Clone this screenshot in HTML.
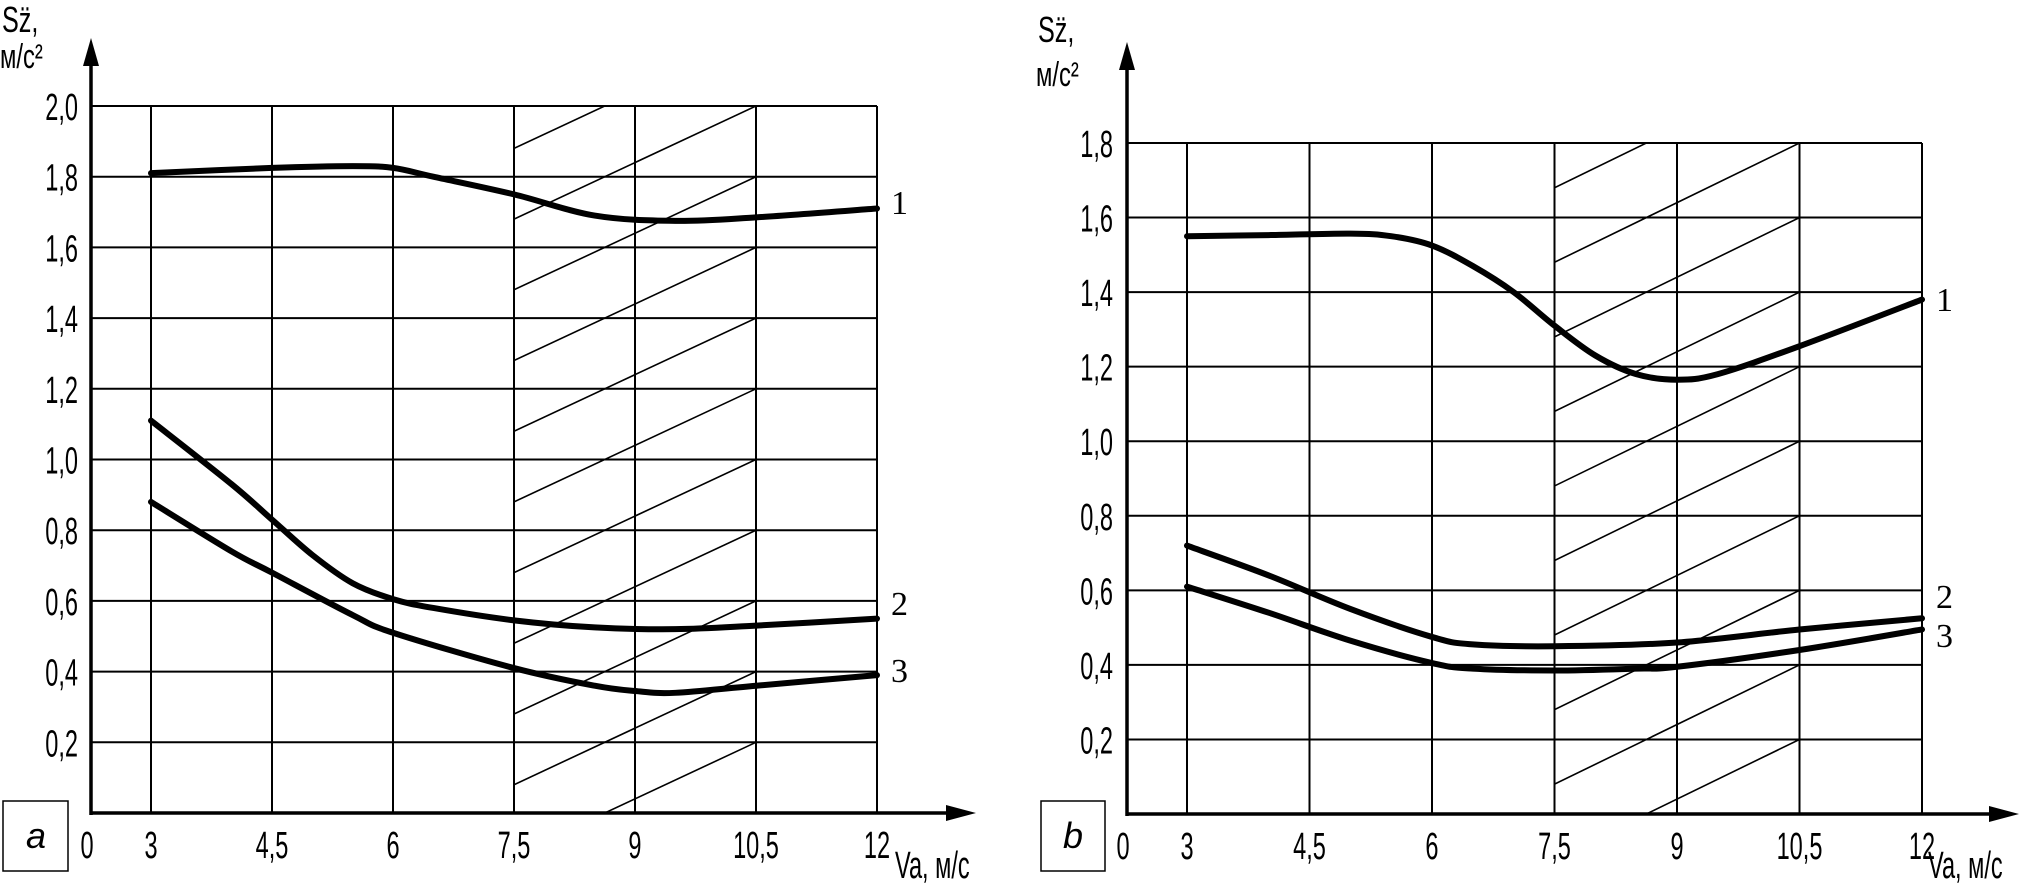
<!DOCTYPE html>
<html><head><meta charset="utf-8">
<style>
html,body{margin:0;padding:0;background:#fff;}
svg{display:block;}
text{font-family:"Liberation Sans",sans-serif;fill:#000;}
</style></head>
<body>
<svg id="chart" width="2020" height="886" viewBox="0 0 2020 886" xmlns="http://www.w3.org/2000/svg"></svg>
<script>
// ---- data ----
const xTicks = [3, 4.5, 6, 7.5, 9, 10.5, 12];
const xTickLabels = ["3", "4,5", "6", "7,5", "9", "10,5", "12"];
const yTicksA = [0.2, 0.4, 0.6, 0.8, 1.0, 1.2, 1.4, 1.6, 1.8, 2.0];
const yTickLabelsA = ["0,2","0,4","0,6","0,8","1,0","1,2","1,4","1,6","1,8","2,0"];
const yTicksB = [0.2, 0.4, 0.6, 0.8, 1.0, 1.2, 1.4, 1.6, 1.8];
const yTickLabelsB = ["0,2","0,4","0,6","0,8","1,0","1,2","1,4","1,6","1,8"];
const hatchOffsets = [1.88, 1.68, 1.48, 1.28, 1.08, 0.88, 0.68, 0.48, 0.28, 0.08, -0.12];
const hatchRange = [7.5, 10.5];

const a1x = [3, 4.5, 5.5, 6, 6.5, 7.5, 8.5, 9.5, 10.5, 12];
const a1y = [1.81, 1.825, 1.83, 1.825, 1.80, 1.75, 1.69, 1.675, 1.685, 1.71];
const a2x = [3, 4, 4.5, 5, 5.5, 6, 6.5, 7.5, 8.5, 9.5, 10.5, 12];
const a2y = [1.11, 0.93, 0.83, 0.73, 0.65, 0.605, 0.58, 0.545, 0.525, 0.52, 0.53, 0.55];
const a3x = [3, 4, 4.5, 5.5, 6, 7.5, 8.5, 9, 9.5, 10.5, 12];
const a3y = [0.88, 0.74, 0.68, 0.56, 0.51, 0.41, 0.36, 0.345, 0.34, 0.36, 0.39];

const b1x = [3, 4, 5, 5.5, 6, 6.5, 7, 7.5, 8, 8.5, 9, 9.5, 10.5, 12];
const b1y = [1.55, 1.553, 1.557, 1.55, 1.525, 1.47, 1.40, 1.31, 1.23, 1.18, 1.165, 1.18, 1.255, 1.38];
const b2x = [3, 4, 5, 6, 6.5, 7.5, 9, 10.5, 12];
const b2y = [0.72, 0.64, 0.55, 0.475, 0.455, 0.45, 0.46, 0.495, 0.525];
const b3x = [3, 4, 5, 6, 6.5, 7.5, 8.5, 9, 10.5, 12];
const b3y = [0.61, 0.54, 0.465, 0.405, 0.39, 0.385, 0.39, 0.395, 0.44, 0.495];

const NS = "http://www.w3.org/2000/svg";
const svg = document.getElementById("chart");
function mk(tag, attrs, parent) {
  const e = document.createElementNS(NS, tag);
  for (const k in attrs) e.setAttribute(k, attrs[k]);
  (parent || svg).appendChild(e);
  return e;
}
const SX = 0.62;

function drawPanel(P) {
  const g = mk("g", {});
  
  
  const X = v => v <= 0 ? P.ax : P.x3 + (v - 3) * (P.x12 - P.x3) / 9;
  const Y = v => P.y0 - v * (P.y0 - P.yTop) / P.ymax;

  xTicks.forEach((t, i) => {
    const l = mk("line", {x1: X(t), x2: X(t), y1: P.y0, y2: P.yTop, stroke: "#000", "stroke-width": 2}, g);
    
    
    const tx = mk("text", {x: X(t), y: P.y0 + 45, "text-anchor": "middle", "font-size": 38,
      transform: `translate(${X(t)},0) scale(${SX},1) translate(${-X(t)},0)`}, g);
    tx.textContent = xTickLabels[i];
    
    
  });
  P.yTicks.forEach((t, i) => {
    const l = mk("line", {x1: P.ax, x2: X(12), y1: Y(t), y2: Y(t), stroke: "#000", "stroke-width": 2}, g);
    
    
    const tx = mk("text", {x: P.lx, y: Y(t) + 14, "text-anchor": "end", "font-size": 38,
      transform: `translate(${P.lx},0) scale(${SX},1) translate(${-P.lx},0)`}, g);
    tx.textContent = P.yLabels[i];
    
    
  });
  const clipId = P.name + "-clip";
  const cp = mk("clipPath", {id: clipId}, g);
  mk("rect", {x: X(hatchRange[0]), y: P.yTop, width: X(hatchRange[1]) - X(hatchRange[0]), height: P.y0 - P.yTop}, cp);
  const hg = mk("g", {"clip-path": `url(#${clipId})`}, g);
  
  
  hatchOffsets.forEach(c => {
    const l = mk("line", {x1: X(hatchRange[0]), y1: Y(c), x2: X(hatchRange[1]), y2: Y(c + 0.32), stroke: "#000", "stroke-width": 1.6}, hg);
    
    
  });
  const ya = mk("line", {x1: P.ax, x2: P.ax, y1: P.y0 + 2, y2: P.arrowTop + 20, stroke: "#000", "stroke-width": 3.5}, g);
  
  
  const yar = mk("polygon", {points: `${P.ax},${P.arrowTop} ${P.ax - 8},${P.arrowTop + 28} ${P.ax + 8},${P.arrowTop + 28}`, fill: "#000"}, g);
  
  
  const xa = mk("line", {x1: P.ax, x2: P.arrowRight - 20, y1: P.y0, y2: P.y0, stroke: "#000", "stroke-width": 3.5}, g);
  
  
  const xar = mk("polygon", {points: `${P.arrowRight},${P.y0} ${P.arrowRight - 30},${P.y0 - 8} ${P.arrowRight - 30},${P.y0 + 8}`, fill: "#000"}, g);
  
  
  const zero = mk("text", {x: P.ax - 4, y: P.y0 + 45, "text-anchor": "middle", "font-size": 38,
    transform: `translate(${P.ax - 4},0) scale(${SX},1) translate(${-(P.ax - 4)},0)`}, g);
  zero.textContent = "0";
  
  

  P.series.forEach((s, k) => {
    const pts = s.x.map((v, i) => [X(v), Y(s.y[i])]);
    let d = `M${pts[0][0]},${pts[0][1]}`;
    for (let i = 0; i < pts.length - 1; i++) {
      const p0 = pts[Math.max(0, i - 1)], p1 = pts[i], p2 = pts[i + 1], p3 = pts[Math.min(pts.length - 1, i + 2)];
      const c1 = [p1[0] + (p2[0] - p0[0]) / 6, p1[1] + (p2[1] - p0[1]) / 6];
      const c2 = [p2[0] - (p3[0] - p1[0]) / 6, p2[1] - (p3[1] - p1[1]) / 6];
      d += ` C${c1[0]},${c1[1]} ${c2[0]},${c2[1]} ${p2[0]},${p2[1]}`;
    }
    const path = mk("path", {d: d, fill: "none", stroke: "#000", "stroke-width": 6, "stroke-linecap": "round"}, g);
    
    
    const lab = mk("text", {x: X(12) + 14, y: P.labelY[k], "font-size": 34, style: 'font-family:"Liberation Serif",serif'}, g);
    lab.textContent = String(k + 1);
    
    
  });
}

drawPanel({name: "panel-a", ax: 91, x3: 151, x12: 877, y0: 813, yTop: 106, ymax: 2.0,
  yTicks: yTicksA, yLabels: yTickLabelsA, lx: 78, arrowTop: 38, arrowRight: 976,
  labelY: [214, 615, 682],
  series: [{x: a1x, y: a1y}, {x: a2x, y: a2y}, {x: a3x, y: a3y}]});
drawPanel({name: "panel-b", ax: 1127, x3: 1187, x12: 1922, y0: 814, yTop: 143, ymax: 1.8,
  yTicks: yTicksB, yLabels: yTickLabelsB, lx: 1113, arrowTop: 42, arrowRight: 2019,
  labelY: [311, 608, 647],
  series: [{x: b1x, y: b1y}, {x: b2x, y: b2y}, {x: b3x, y: b3y}]});
</script>
<svg style="position:absolute;left:0;top:0" width="2020" height="886">
  <text x="2" y="32" font-size="36" transform="translate(2,0) scale(0.7,1) translate(-2,0)">Sz̈,</text>
  <text x="0" y="68" font-size="34" transform="scale(0.7,1)">м/с²</text>
  <text x="1038" y="42" font-size="36" transform="translate(1038,0) scale(0.7,1) translate(-1038,0)">Sz̈,</text>
  <text x="1036" y="86" font-size="34" transform="translate(1036,0) scale(0.7,1) translate(-1036,0)">м/с²</text>
  <text x="895" y="878" font-size="38" transform="translate(895,0) scale(0.62,1) translate(-895,0)">Va, м/с</text>
  <text x="1928" y="878" font-size="38" transform="translate(1928,0) scale(0.62,1) translate(-1928,0)">Va, м/с</text>
  <rect x="3" y="801" width="65" height="70" fill="none" stroke="#000" stroke-width="1.5"/>
  <text x="36" y="848" font-size="36" font-style="italic" text-anchor="middle">a</text>
  <rect x="1041" y="801" width="64" height="70" fill="none" stroke="#000" stroke-width="1.5"/>
  <text x="1073" y="848" font-size="36" font-style="italic" text-anchor="middle">b</text>
</svg>
</body></html>
